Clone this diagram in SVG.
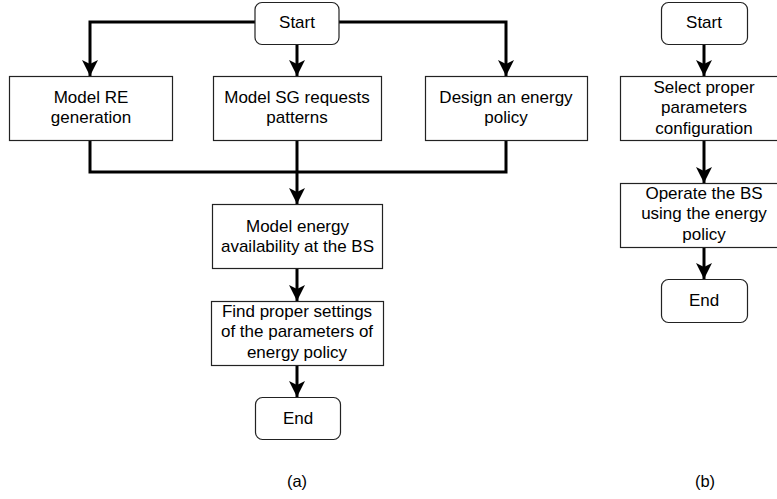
<svg xmlns="http://www.w3.org/2000/svg" width="777" height="499" viewBox="0 0 777 499">
<defs>
<marker id="arr" markerUnits="userSpaceOnUse" markerWidth="16" markerHeight="16" viewBox="0 0 16 16" refX="16" refY="8" orient="auto">
<path d="M0,0 L16,8 L0,16 L4,8 Z" fill="#000"/>
</marker>
<style>
.box{fill:#fff;stroke:#222;stroke-width:1.2}
.t{font-family:"Liberation Sans",Arial,sans-serif;font-size:17px;fill:#000;text-anchor:middle}
.lbl{font-family:"Liberation Sans",Arial,sans-serif;font-size:16.5px;fill:#000;text-anchor:middle}
.c{fill:none;stroke:#000;stroke-width:3}
.a{marker-end:url(#arr)}
</style>
</defs>
<rect width="777" height="499" fill="#fff"/>
<g id="connectors">
<path class="c a" d="M255,22 H90 V76"/>
<path class="c a" d="M339,22 H506 V76"/>
<path class="c a" d="M297,44 V76"/>
<path class="c" d="M90,140 V172 H506 V140"/>
<path class="c a" d="M297,140 V204"/>
<path class="c a" d="M297,269 V301"/>
<path class="c a" d="M297,365 V397"/>
<path class="c a" d="M704,44 V76"/>
<path class="c a" d="M704,140 V183"/>
<path class="c a" d="M704,247 V279"/>
</g>
<g id="startA">
<rect class="box" x="255" y="2.5" width="84" height="42" rx="7"/>
<text class="t" x="297" y="28">Start</text>
</g>
<g id="modelRE">
<rect class="box" x="9.5" y="76.5" width="163" height="64"/>
<text class="t" x="91" y="103">Model RE</text>
<text class="t" x="91" y="123">generation</text>
</g>
<g id="modelSG">
<rect class="box" x="213.5" y="76.5" width="168" height="64"/>
<text class="t" x="297" y="103">Model SG requests</text>
<text class="t" x="297" y="123">patterns</text>
</g>
<g id="design">
<rect class="box" x="425.5" y="76.5" width="162" height="64"/>
<text class="t" x="506" y="103">Design an energy</text>
<text class="t" x="506" y="123">policy</text>
</g>
<g id="modelEnergy">
<rect class="box" x="212.5" y="204.5" width="170" height="64"/>
<text class="t" x="297.5" y="232">Model energy</text>
<text class="t" x="297.5" y="252">availability at the BS</text>
</g>
<g id="findSettings">
<rect class="box" x="211.5" y="301.5" width="172" height="64"/>
<text class="t" x="297" y="316.5">Find proper settings</text>
<text class="t" x="297" y="337">of the parameters of</text>
<text class="t" x="297" y="357.5">energy policy</text>
</g>
<g id="endA">
<rect class="box" x="255.5" y="397.5" width="85" height="42" rx="7"/>
<text class="t" x="298" y="423.5">End</text>
</g>
<g id="startB">
<rect class="box" x="661.5" y="2.5" width="86" height="42" rx="7"/>
<text class="t" x="704" y="28">Start</text>
</g>
<g id="select">
<rect class="box" x="620.5" y="76.5" width="168" height="64"/>
<text class="t" x="704" y="92.5">Select proper</text>
<text class="t" x="704" y="113">parameters</text>
<text class="t" x="704" y="133.5">configuration</text>
</g>
<g id="operate">
<rect class="box" x="620.5" y="183.5" width="168" height="64"/>
<text class="t" x="704" y="198.5">Operate the BS</text>
<text class="t" x="704" y="219">using the energy</text>
<text class="t" x="704" y="239.5">policy</text>
</g>
<g id="endB">
<rect class="box" x="661.5" y="279.5" width="86" height="43" rx="7"/>
<text class="t" x="704" y="305.5">End</text>
</g>
<g id="labels">
<text class="lbl" x="297" y="487">(a)</text>
<text class="lbl" x="705" y="487">(b)</text>
</g>
</svg>
